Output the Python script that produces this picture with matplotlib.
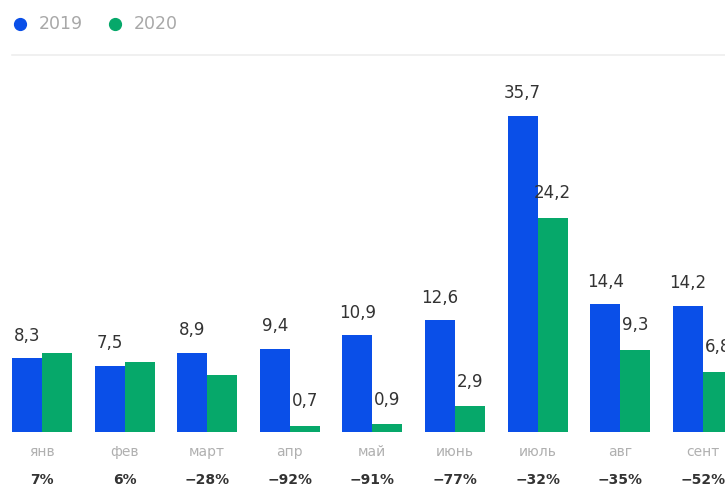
import matplotlib.pyplot as plt
import numpy as np

months = ["янв", "фев", "март", "апр", "май", "июнь", "июль", "авг", "сент"]
v2019 = [8.3, 7.5, 8.9, 9.4, 10.9, 12.6, 35.7, 14.4, 14.2]
v2020 = [8.9, 7.9, 6.4, 0.7, 0.9, 2.9, 24.2, 9.3, 6.8]
labels2019 = ["8,3", "7,5", "8,9", "9,4", "10,9", "12,6", "35,7", "14,4", "14,2"]
labels2020 = ["", "", "", "0,7", "0,9", "2,9", "24,2", "9,3", "6,8"]
changes = ["7%", "6%", "\u221228%", "\u221292%", "\u221291%", "\u221277%", "\u221232%", "\u221235%", "\u221252%"]

blue = "#0a4fe8"
green = "#06a86a"

fig = plt.figure(figsize=(7.25, 5.04), dpi=100)
ax = fig.add_axes([0, 0, 1, 1])
ax.axis("off")

x = np.arange(len(months))
w = 0.363
ax.bar(x - w / 2, v2019, w, color=blue)
ax.bar(x + w / 2, v2020, w, color=green)

for i in range(len(months)):
    ax.annotate(labels2019[i], (x[i] - w / 2, v2019[i]), xytext=(0, 10),
                textcoords="offset points", ha="center", va="bottom",
                fontsize=12, color="#333333")
    if labels2020[i]:
        ax.annotate(labels2020[i], (x[i] + w / 2, v2020[i]), xytext=(0, 11),
                    textcoords="offset points", ha="center", va="bottom",
                    fontsize=12, color="#333333")
    ax.text(x[i], -2.3, months[i], ha="center", va="center",
            fontsize=10, color="#b0b0b0")
    ax.text(x[i], -5.4, changes[i], ha="center", va="center",
            fontsize=10, color="#333333", fontweight="bold")

ax.set_xlim(-0.508, 8.269)
ax.set_ylim(-8.14, 48.8)

# legend and divider at the top
fig.add_artist(plt.Line2D([12 / 725, 1], [1 - 55 / 504] * 2, color="#eeeeee", lw=1.2))
for px, lab, c in [(20, "2019", blue), (115, "2020", green)]:
    fig.add_artist(plt.Line2D([px / 725], [1 - 24 / 504], marker="o", markersize=8.5,
                              color=c, linestyle="none"))
    fig.text((px + 19) / 725, 1 - 24 / 504, lab, ha="left", va="center",
             fontsize=12.5, color="#a8a8a8")

plt.savefig("out.png", dpi=100)
